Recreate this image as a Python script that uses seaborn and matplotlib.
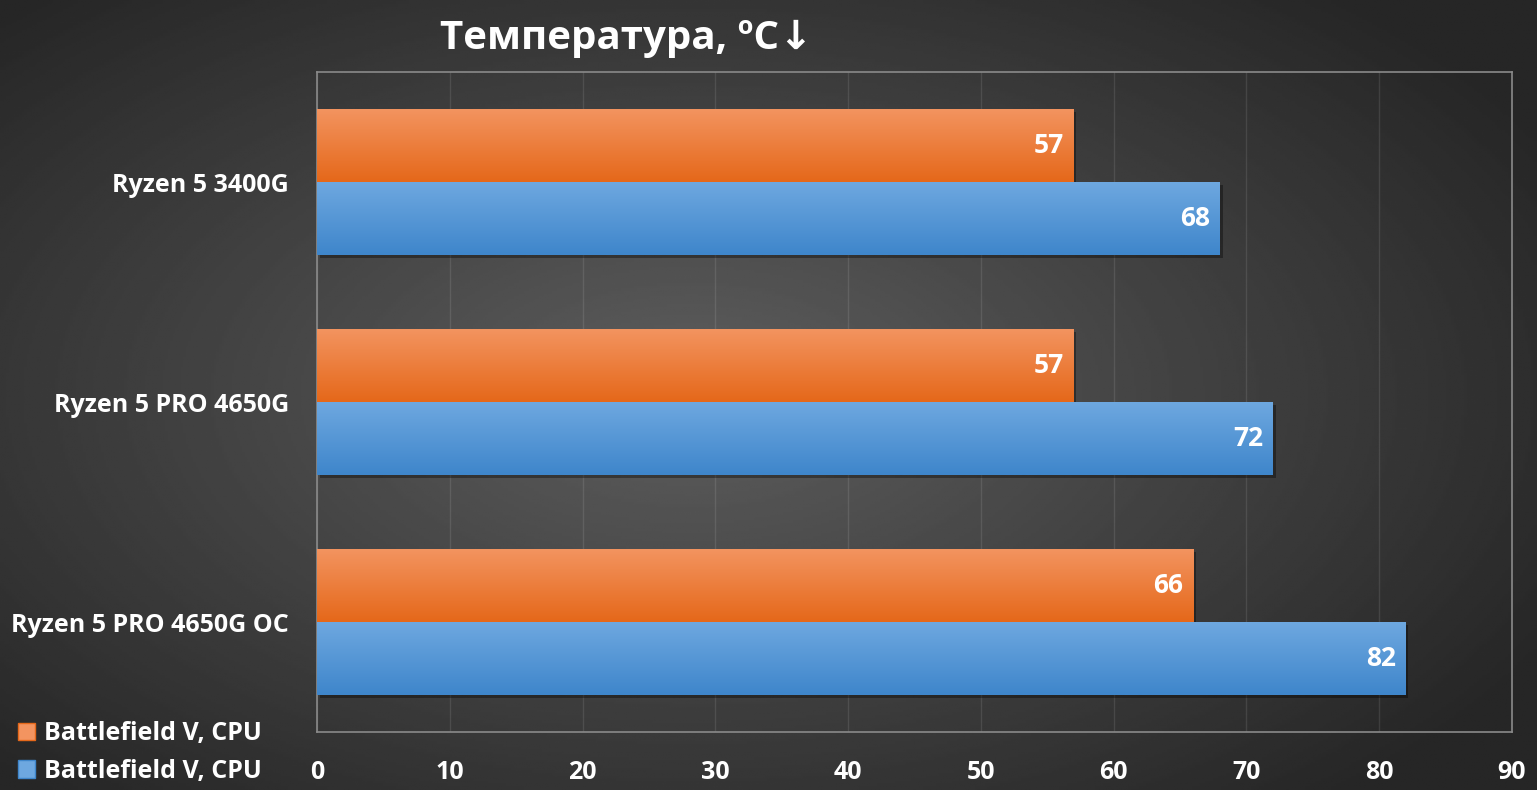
import numpy as np
import pandas as pd
import seaborn as sns

from matplotlib         import pyplot as plt
from matplotlib.patches import Patch, Rectangle

# ---- data ----
categories   = ["Ryzen 5 3400G", "Ryzen 5 PRO 4650G", "Ryzen 5 PRO 4650G OC"]
series_keys  = ["s1", "s2"]
series_names = ["Battlefield V, CPU", "Battlefield V, CPU"]
orange_vals  = [57, 57, 66]
blue_vals    = [68, 72, 82]
x_ticks      = [0, 10, 20, 30, 40, 50, 60, 70, 80, 90]
title        = "Температура, ºC↓"

colors = {"s1": ("#f39460", "#e5681a"),
          "s2": ("#6ea8e0", "#3f86cb")}

sns.set_theme(style="dark")
plt.rcParams['font.family'] = ['Open Sans', 'DejaVu Sans']
plt.rcParams['font.weight'] = 'bold'

df = pd.DataFrame({
    "cpu"   : categories * 2,
    "series": [series_keys[0]] * 3 + [series_keys[1]] * 3,
    "temp"  : orange_vals + blue_vals,
})

fig = plt.figure(figsize=(15.37, 7.9), dpi=100)

# radial dark background
bg = fig.add_axes([0, 0, 1, 1], zorder=-5)
yy, xx = np.mgrid[0:1:300j, 0:1:600j]
r    = np.sqrt(((xx - 0.45) / 0.75) ** 2 + ((yy - 0.5) / 0.8) ** 2)
grad = np.clip(0.37 - 0.26 * r, 0.15, 0.4)
bg.imshow(grad, cmap="gray", vmin=0, vmax=1, extent=(0, 1, 0, 1), aspect="auto")
bg.set_axis_off()

ax = fig.add_axes([317 / 1537, 1 - 732 / 790, (1512 - 317) / 1537, (732 - 72) / 790])
ax.patch.set_alpha(0)

sns.barplot(data=df, y="cpu", x="temp", hue="series", order=categories,
            hue_order=series_keys, orient="h", width=0.664, ax=ax,
            palette={k: v[1] for k, v in colors.items()}, legend=False,
            saturation=1, linewidth=0, zorder=3)

# gradient fill, shadow and value labels per bar
for container, key in zip(ax.containers, series_keys):
    top, bot = colors[key]
    cmap = sns.blend_palette([top, bot], as_cmap=True)
    for patch in container:
        x0, y0 = patch.get_x(), patch.get_y()
        w, h   = patch.get_width(), patch.get_height()
        shadow = Rectangle((x0 + 0.2, y0 + 0.015), w, h, color="black",
                           alpha=0.35, zorder=2, lw=0)
        ax.add_patch(shadow)
        im = ax.imshow(np.linspace(0, 1, 50)[:, None], cmap=cmap, aspect="auto",
                       extent=(x0, x0 + w, y0 + h, y0), origin="upper", zorder=4)
        im.set_clip_path(patch)
        ax.annotate(f"{w:.0f}", (x0 + w, y0 + h / 2), xytext=(-7, 0),
                    textcoords="offset points", ha="right", va="center",
                    color="white", fontsize=19, fontweight="bold", zorder=6)

ax.set_xlim(0, 90)
ax.set_ylim(2.5, -0.5)

ax.set_xticks(x_ticks)
ax.set_xlabel("")
ax.set_ylabel("")
ax.tick_params(axis="x", length=0, pad=20, labelsize=18, labelcolor="white")
ax.tick_params(axis="y", length=0, pad=20, labelsize=18, labelcolor="white")
for lab in ax.get_xticklabels() + ax.get_yticklabels():
    lab.set_fontweight("bold")

ax.grid(axis="x", color="white", alpha=0.1, lw=1, zorder=0)
ax.grid(axis="y", visible=False)
for sp in ax.spines.values():
    sp.set_visible(True)
    sp.set_color("#8a8a8a")
    sp.set_linewidth(1.2)

fig.text(626 / 1537, 1 - 38 / 790, title, ha="center", va="center",
         fontsize=29, fontweight="bold", color="white")

handles = [Patch(facecolor=colors[k][0], edgecolor=colors[k][1]) for k in series_keys]
fig.legend(handles, series_names, loc="lower left", bbox_to_anchor=(0.0, -0.014),
           borderaxespad=0.3, frameon=False, labelcolor="white", handlelength=0.7,
           handleheight=0.7, handletextpad=0.35, labelspacing=0.5,
           prop={"weight": "bold", "size": 18})

fig.savefig("out.png", dpi=100)
